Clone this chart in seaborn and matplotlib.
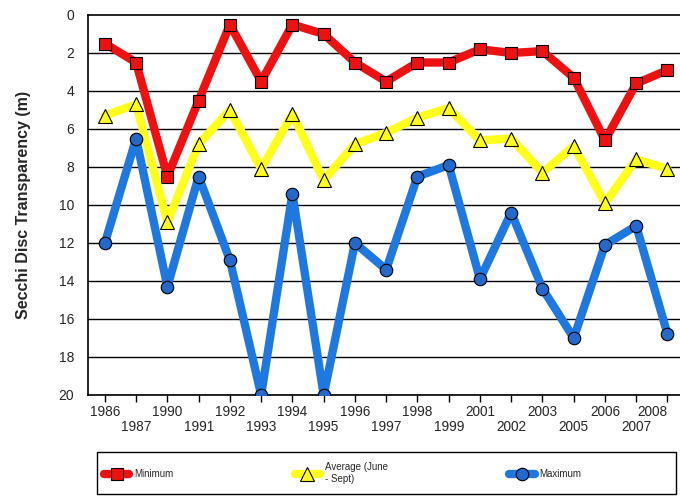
import numpy as np
import pandas as pd
import matplotlib
matplotlib.use("Agg")
import matplotlib.pyplot as plt
from matplotlib.patches import Rectangle
import seaborn as sns

years = ["1986", "1987", "1990", "1991", "1992", "1993", "1994", "1995", "1996", "1997",
         "1998", "1999", "2001", "2002", "2003", "2005", "2006", "2007", "2008"]
minimum = [1.5, 2.5, 8.5, 4.5, 0.5, 3.5, 0.5, 1.0, 2.5, 3.5,
           2.5, 2.5, 1.8, 2.0, 1.9, 3.3, 6.6, 3.6, 2.9]
average = [5.3, 4.7, 10.9, 6.8, 5.0, 8.1, 5.2, 8.7, 6.8, 6.2,
           5.4, 4.9, 6.6, 6.5, 8.3, 6.9, 9.9, 7.6, 8.1]
maximum = [12.0, 6.5, 14.3, 8.5, 12.9, 20.0, 9.4, 20.0, 12.0, 13.4,
           8.5, 7.9, 13.9, 10.4, 14.4, 17.0, 12.1, 11.1, 16.8]
series_names = ["Minimum", "Average (June\n- Sept)", "Maximum"]
y_ticks = [0, 2, 4, 6, 8, 10, 12, 14, 16, 18, 20]

sns.set_theme(style="white")
plt.rcParams['font.family'] = ['Liberation Sans', 'DejaVu Sans']

fig = plt.figure(figsize=(6.8, 4.96), dpi=100)
ax = fig.add_axes([88/680, 1 - 395/496, 1 - 88/680, 380/496])

for v in y_ticks[1:]:
    ax.axhline(v, color="black", lw=1.0, zorder=1)

idx = np.arange(len(years))
styles = [
    (minimum, "#EE1111", "s", 9, "#EE1111"),
    (average, "#FFFF1A", "^", 10, "#FFFF1A"),
    (maximum, "#1E78E0", "o", 9, "#2468CC"),
]
for (vals, col, mk, ms, fc), name in zip(styles, series_names):
    df = pd.DataFrame({"x": idx, "y": vals})
    sns.lineplot(data=df, x="x", y="y", ax=ax, color=col, lw=6, marker=mk,
                 markersize=ms, markerfacecolor=fc, markeredgecolor="black",
                 markeredgewidth=0.8, zorder=3, label=name, sort=False)

ax.set_ylim(20, 0)
ax.set_xlim(-0.54, 18.4)
ax.set_yticks(y_ticks)
ax.set_yticklabels([str(t) for t in y_ticks], fontsize=10)

even = idx[::2]
odd = idx[1::2]
ax.set_xticks(even)
xl = ax.set_xticklabels([years[i] for i in even], fontsize=9.8)
ax.set_xticks(odd, minor=True)
ax.set_xticklabels([years[i] for i in odd], minor=True, fontsize=9.8)
xl[-1].set_horizontalalignment("right")
xl[-1].set_x(idx[-1] + 0.42)
ax.tick_params(axis="x", which="major", length=5, width=1, color="black", direction="out",
               pad=2, bottom=True)
ax.tick_params(axis="x", which="minor", length=5, width=1, color="black", direction="out",
               pad=13, bottom=True)
ax.tick_params(axis="y", length=0, pad=10)
for s in ["left", "bottom", "top"]:
    ax.spines[s].set_color("black")
    ax.spines[s].set_linewidth(1.2)
ax.spines["right"].set_visible(False)
ax.set_xlabel("")
ax.set_ylabel("Secchi Disc Transparency (m)", fontsize=11.5, fontweight="bold",
              labelpad=20, family=["Liberation Sans Narrow", "Liberation Sans", "DejaVu Sans"])

ax.get_legend().remove()
h, l = ax.get_legend_handles_labels()
fig.patches.append(Rectangle((97/680, 2/496), (676 - 97)/680, 42/496,
                             transform=fig.transFigure, fill=False,
                             edgecolor="black", lw=1.0))
leg = fig.legend(h, l, loc="center left", bbox_to_anchor=(100/680, 23/496),
                 ncol=3, fontsize=7, frameon=False, handlelength=2.6,
                 columnspacing=12.5, handletextpad=0.5, borderaxespad=0)

fig.savefig("out.png", dpi=100)
